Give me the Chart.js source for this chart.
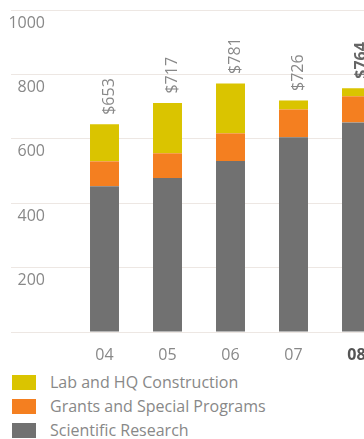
<!DOCTYPE html>
<html lang="en">
<head>
  <meta charset="UTF-8" />
  <title>Spending by year</title>
  <script src="https://cdn.jsdelivr.net/npm/chart.js"></script>
  <style>
    html, body { margin: 0; padding: 0; background: #fff; overflow: hidden; }
    #wrap { position: relative; width: 388px; height: 366px; }
    #legend { margin: 4px 0 0 12px; font-family: "Open Sans", sans-serif; font-size: 16px; color: #888; }
    #legend div { height: 24px; display: flex; align-items: center; white-space: nowrap; }
    #legend span.box { display: inline-block; width: 24px; height: 15px; margin-right: 14px; }
  </style>
</head>
<body>

  <div id="wrap"><canvas id="spendChart"></canvas></div>
  <div id="legend"></div>

  <script>
    const years = ['04', '05', '06', '07', '08'];
    const research = [453, 478, 531, 605, 651];
    const grants = [77, 77, 86, 86, 81];
    const construction = [115, 156, 155, 28, 25];
    const totals = ['$653', '$717', '$781', '$726', '$764'];
    const yTicks = [0, 200, 400, 600, 800, 1000];

    const FONT = '"Open Sans", sans-serif';

    // totals written vertically above each stack
    const totalLabels = {
      id: 'totalLabels',
      afterDatasetsDraw(chart) {
        const ctx = chart.ctx;
        const top = chart.getDatasetMeta(2).data;
        top.forEach((bar, i) => {
          const last = i === top.length - 1;
          ctx.save();
          ctx.translate(bar.x + 9.5, bar.y - 9.5);
          ctx.rotate(-Math.PI / 2);
          ctx.font = (last ? 'bold ' : '') + '16px ' + FONT;
          ctx.fillStyle = last ? '#666' : '#888';
          ctx.textAlign = 'left';
          ctx.textBaseline = 'alphabetic';
          ctx.fillText(totals[i], 0, 0);
          ctx.restore();
        });
      }
    };

    const chart = new Chart(document.getElementById('spendChart'), {
      type: 'bar',
      data: {
        labels: years,
        datasets: [
          { label: 'Scientific Research', data: research, backgroundColor: '#717171' },
          { label: 'Grants and Special Programs', data: grants, backgroundColor: '#f47f20' },
          { label: 'Lab and HQ Construction', data: construction, backgroundColor: '#dac400' }
        ]
      },
      options: {
        responsive: true,
        maintainAspectRatio: false,
        animation: false,
        layout: { padding: { top: 10, left: 0, right: 0, bottom: 0 } },
        datasets: { bar: { categoryPercentage: 1, barPercentage: 0.46 } },
        plugins: {
          legend: { display: false },
          tooltip: { enabled: false }
        },
        scales: {
          x: {
            stacked: true,
            grid: { display: false },
            border: { display: false },
            afterFit: (s) => { s.height = 34; },
            ticks: {
              padding: 6,
              color: (c) => c.index === 4 ? '#555' : '#888',
              font: (c) => ({ family: FONT, size: 16, weight: c.index === 4 ? 'bold' : 'normal' })
            }
          },
          y: {
            stacked: true,
            min: 0,
            max: 1000,
            border: { display: false },
            afterFit: (s) => { s.width = 73; },
            afterBuildTicks: (s) => { s.ticks = yTicks.map(v => ({ value: v })); },
            grid: { color: '#ede7e3', lineWidth: 1, tickLength: 62 },
            ticks: {
              padding: -34,
              labelOffset: 13,
              color: '#888',
              font: { family: FONT, size: 16 },
              callback: (v) => v === 0 ? '' : v
            }
          }
        }
      },
      plugins: [totalLabels]
    });

    // legend rows, top of the stack first
    const legend = document.getElementById('legend');
    chart.data.datasets.slice().reverse().forEach(ds => {
      const row = document.createElement('div');
      const box = document.createElement('span');
      box.className = 'box';
      box.style.background = ds.backgroundColor;
      row.appendChild(box);
      row.appendChild(document.createTextNode(ds.label));
      legend.appendChild(row);
    });
  </script>

</body>
</html>
